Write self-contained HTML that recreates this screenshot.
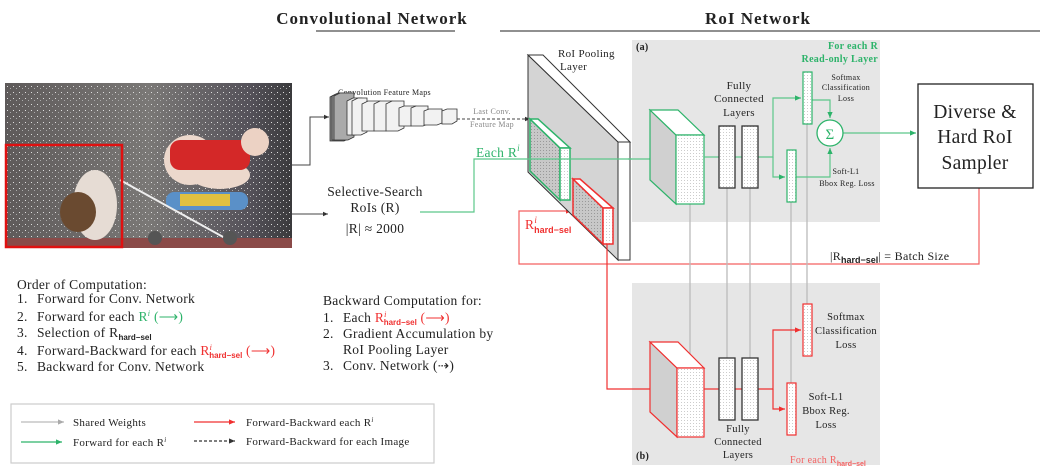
<!DOCTYPE html>
<html><head><meta charset="utf-8"><style>
body{margin:0;background:#fff}
svg{display:block}
text{font-family:"Liberation Serif",serif;fill:#222;letter-spacing:0.3px}
.s{font-family:"Liberation Sans",sans-serif;font-weight:bold;letter-spacing:0}
</style></head><body>
<svg width="1048" height="473" viewBox="0 0 1048 473" xmlns="http://www.w3.org/2000/svg">
<defs>
<pattern id="dot" width="3" height="3" patternUnits="userSpaceOnUse"><rect width="3" height="3" fill="#fff"/><rect width="1" height="1" fill="#ccc"/></pattern>
<pattern id="dot2" width="3" height="3" patternUnits="userSpaceOnUse"><rect width="3" height="3" fill="#c8c8c8"/><rect width="1" height="1" fill="#999"/></pattern>
<pattern id="spark" width="6" height="6" patternUnits="userSpaceOnUse"><rect width="6" height="6" fill="none"/><rect x="1" y="2" width="1" height="1" fill="#ddd"/><rect x="4" y="4" width="1" height="1" fill="#aaa"/></pattern>
<linearGradient id="cur" x1="0" x2="1" y1="0" y2="0">
<stop offset="0" stop-color="#5e5a5a"/><stop offset="0.5" stop-color="#7a7876"/><stop offset="0.85" stop-color="#55525a"/><stop offset="1" stop-color="#3a3a3c"/></linearGradient>
<marker id="ag" markerWidth="6" markerHeight="6" refX="5" refY="3" orient="auto"><path d="M0,0.8L5,3L0,5.2z" fill="#2db36a"/></marker>
<marker id="ar" markerWidth="6" markerHeight="6" refX="5" refY="3" orient="auto"><path d="M0,0.8L5,3L0,5.2z" fill="#f03030"/></marker>
<marker id="ak" markerWidth="6" markerHeight="6" refX="5" refY="3" orient="auto"><path d="M0,0.8L5,3L0,5.2z" fill="#333"/></marker>
<marker id="aq" markerWidth="6" markerHeight="6" refX="5" refY="3" orient="auto"><path d="M0,0.8L5,3L0,5.2z" fill="#aaa"/></marker>
</defs>

<!-- titles -->
<text x="372" y="24" font-size="17" font-weight="bold" text-anchor="middle" style="letter-spacing:1px">Convolutional Network</text>
<line x1="316" y1="31" x2="455" y2="31" stroke="#222"/>
<text x="758" y="24" font-size="17" font-weight="bold" text-anchor="middle" style="letter-spacing:1px">RoI Network</text>
<line x1="500" y1="31" x2="1040" y2="31" stroke="#222"/>

<!-- photo -->
<rect x="5" y="83" width="287" height="165" fill="url(#cur)"/>
<rect x="5" y="83" width="287" height="165" fill="url(#spark)"/>
<rect x="5" y="238" width="287" height="10" fill="#8a4a48"/>
<ellipse cx="95" cy="205" rx="22" ry="35" fill="#e6dcd4"/>
<ellipse cx="78" cy="212" rx="18" ry="20" fill="#6a4a30"/>
<ellipse cx="190" cy="160" rx="26" ry="25" fill="#ecd8cc"/>
<ellipse cx="220" cy="175" rx="30" ry="14" fill="#ecd8cc"/>
<rect x="170" y="140" width="80" height="30" rx="10" fill="#d42828"/>
<circle cx="255" cy="142" r="14" fill="#ecd2c4"/>
<rect x="166" y="192" width="82" height="18" rx="8" fill="#5a90c8"/>
<rect x="180" y="194" width="50" height="12" fill="#e0c040"/>
<line x1="120" y1="180" x2="225" y2="238" stroke="#eee" stroke-width="2"/>
<circle cx="155" cy="238" r="7" fill="#555"/><circle cx="230" cy="238" r="7" fill="#555"/>
<rect x="6" y="145" width="116" height="102" fill="none" stroke="#e01010" stroke-width="2.5"/>

<!-- photo connectors -->
<polyline points="292,165 310,165 310,117 329,117" fill="none" stroke="#444" marker-end="url(#ak)"/>
<line x1="292" y1="214" x2="328" y2="214" stroke="#444" marker-end="url(#ak)"/>

<!-- conv stack -->
<text x="338" y="95" font-size="8">Convolution Feature Maps</text>
<g stroke="#333" stroke-width="0.8">
<path d="M330,97 L336,94 L350,94 L350,138 L344,141 L330,141z" fill="#888"/>
<path d="M332,96 L338,93 L352,93 L352,137 L346,140 L332,140z" fill="#999"/>
<path d="M334,96 L340,93 L354,93 L354,137 L348,140 L334,140z" fill="#aaa"/>
<path d="M347,101 L353,98 L362,98 L362,132 L356,135 L347,135z" fill="#eee"/>
<path d="M352,101 L358,98 L367,98 L367,132 L361,135 L352,135z" fill="#f2f2f2"/>
<path d="M362,104 L368,101 L380,101 L380,128 L374,131 L362,131z" fill="#f2f2f2"/>
<path d="M374,104 L380,101 L392,101 L392,128 L386,131 L374,131z" fill="#f2f2f2"/>
<path d="M386,104 L392,101 L404,101 L404,128 L398,131 L386,131z" fill="#f2f2f2"/>
<path d="M399,108 L404,106 L416,106 L416,124 L411,126 L399,126z" fill="#f2f2f2"/>
<path d="M411,108 L416,106 L428,106 L428,124 L423,126 L411,126z" fill="#f2f2f2"/>
<path d="M424,111 L429,109 L442,109 L442,123 L437,125 L424,125z" fill="#f2f2f2"/>
<path d="M442,111 L447,109 L457,109 L457,121 L452,124 L442,124z" fill="#f2f2f2"/>
</g>
<line x1="457" y1="119" x2="530" y2="119" stroke="#444" stroke-dasharray="3,2" marker-end="url(#ak)"/>
<text x="492" y="114" font-size="8" text-anchor="middle" style="fill:#888">Last Conv.</text>
<text x="492" y="127" font-size="8" text-anchor="middle" style="fill:#888">Feature Map</text>

<!-- selective search -->
<text x="375" y="196" font-size="13.5" text-anchor="middle">Selective-Search</text>
<text x="375" y="212" font-size="13.5" text-anchor="middle">RoIs (R)</text>
<text x="375" y="233" font-size="13.5" text-anchor="middle">|R| ≈ 2000</text>

<!-- red back path -->
<polyline points="979,188 979,264 519,264 519,211 572,211" fill="none" stroke="#f46060" stroke-width="1.2" marker-end="url(#ar)"/>

<!-- RoI pooling -->
<text x="558" y="57" font-size="11">RoI Pooling</text>
<text x="560" y="70" font-size="11">Layer</text>
<path d="M528,55 L618,142 L618,260 L528,172z" fill="#d4d4d4" stroke="#333"/>
<path d="M528,55 L543,55 L630,142 L618,142z" fill="#fff" stroke="#333"/>
<rect x="618" y="142" width="12" height="118" fill="#fff" stroke="#333"/>
<path d="M530,119 L560,148 L560,200 L530,171z" fill="url(#dot2)" stroke="#2db36a" stroke-width="1.5"/>
<path d="M530,119 L538,119 L570,148 L560,148z" fill="#fff" stroke="#2db36a" stroke-width="1.5"/>
<rect x="560" y="148" width="10" height="52" fill="url(#dot)" stroke="#2db36a" stroke-width="1.5"/>
<path d="M573,179 L603,208 L603,244 L573,215z" fill="url(#dot2)" stroke="#f03030" stroke-width="1.5"/>
<path d="M573,179 L580,179 L613,208 L603,208z" fill="#fff" stroke="#f03030" stroke-width="1.5"/>
<rect x="603" y="208" width="10" height="36" fill="url(#dot)" stroke="#f03030" stroke-width="1.5"/>

<!-- green path -->
<polyline points="420,212 474,212 474,159 650,159" fill="none" stroke="#5cc78a" stroke-width="1.2"/>
<text x="476" y="157" font-size="13.5" style="fill:#2db36a">Each R<tspan font-size="9" dy="-6" font-style="italic">i</tspan></text>
<text x="525" y="229" font-size="13.5" style="fill:#f03030">R<tspan font-size="9" dy="-6" font-style="italic">i</tspan><tspan class="s" font-size="9" dx="-3" dy="10" style="fill:#f03030">hard−sel</tspan></text>

<!-- box a -->
<rect x="632" y="40" width="248" height="182" fill="#e6e6e6"/>
<text x="636" y="50" font-size="10" font-weight="bold">(a)</text>
<text x="878" y="49" font-size="10" font-weight="bold" text-anchor="end" style="fill:#2db36a">For each R</text>
<text x="878" y="62" font-size="10" font-weight="bold" text-anchor="end" style="fill:#2db36a">Read-only Layer</text>
<line x1="628" y1="159" x2="660" y2="159" stroke="#5cc78a" stroke-width="1.2" marker-end="url(#ag)"/>

<!-- box b -->
<rect x="632" y="283" width="248" height="182" fill="#e6e6e6"/>
<text x="636" y="459" font-size="10" font-weight="bold">(b)</text>
<text x="790" y="463" font-size="10" style="fill:#f46060">For each R<tspan class="s" font-size="7" dy="3" style="fill:#f46060">hard−sel</tspan></text>

<!-- shared weights -->
<g stroke="#bbb" stroke-width="1.3">
<line x1="690" y1="204" x2="690" y2="368"/>
<line x1="727" y1="188" x2="727" y2="358"/>
<line x1="750" y1="188" x2="750" y2="358"/>
<line x1="791" y1="202" x2="791" y2="383"/>
<line x1="807" y1="124" x2="807" y2="304"/>
</g>

<polyline points="607,244 607,389 660,389" fill="none" stroke="#f03030" stroke-width="1.2" marker-end="url(#ar)"/>

<!-- cube a -->
<path d="M650,110 L676,135 L676,204 L650,180z" fill="#d0d0d0" stroke="#2db36a" stroke-width="1.2"/>
<path d="M650,110 L678,110 L704,135 L676,135z" fill="#fff" stroke="#2db36a" stroke-width="1.2"/>
<rect x="676" y="135" width="28" height="69" fill="url(#dot)" stroke="#2db36a" stroke-width="1.2"/>
<text x="739" y="89" font-size="11" text-anchor="middle">Fully</text>
<text x="739" y="102" font-size="11" text-anchor="middle">Connected</text>
<text x="739" y="116" font-size="11" text-anchor="middle">Layers</text>
<g fill="none" stroke="#5cc78a" stroke-width="1.2">
<line x1="704" y1="157" x2="719" y2="157"/><line x1="735" y1="157" x2="742" y2="157"/>
<polyline points="758,157 773,157 773,98 801,98" marker-end="url(#ag)"/>
<polyline points="773,157 773,177 785,177" marker-end="url(#ag)"/>
<polyline points="812,100 830,100 830,118" marker-end="url(#ag)"/>
<polyline points="796,177 830,177 830,148" marker-end="url(#ag)"/>
<line x1="843" y1="133" x2="916" y2="133" marker-end="url(#ag)"/>
</g>
<rect x="719" y="126" width="16" height="62" fill="url(#dot)" stroke="#333" stroke-width="1.3"/>
<rect x="742" y="126" width="16" height="62" fill="url(#dot)" stroke="#333" stroke-width="1.3"/>
<rect x="803" y="72" width="9" height="52" fill="url(#dot)" stroke="#2db36a" stroke-width="1.2"/>
<rect x="787" y="150" width="9" height="52" fill="url(#dot)" stroke="#2db36a" stroke-width="1.2"/>
<circle cx="830" cy="133" r="13" fill="#fff" stroke="#2db36a" stroke-width="1.3"/>
<text x="830" y="139" font-size="15" text-anchor="middle" style="fill:#2db36a">Σ</text>
<g font-size="8">
<text x="846" y="80" text-anchor="middle">Softmax</text>
<text x="846" y="90" text-anchor="middle">Classification</text>
<text x="846" y="101" text-anchor="middle">Loss</text>
<text x="846" y="174" text-anchor="middle">Soft-L1</text>
<text x="847" y="186" text-anchor="middle">Bbox Reg. Loss</text>
</g>

<!-- sampler -->
<rect x="918" y="84" width="115" height="104" fill="#fff" stroke="#222" stroke-width="1.3"/>
<text x="975" y="118" font-size="19.5" text-anchor="middle">Diverse &amp;</text>
<text x="975" y="143" font-size="19.5" text-anchor="middle">Hard RoI</text>
<text x="975" y="169" font-size="19.5" text-anchor="middle">Sampler</text>
<text x="830" y="260" font-size="12">|R<tspan class="s" font-size="9" dy="3">hard−sel</tspan><tspan dy="-3">| = Batch Size</tspan></text>

<!-- cube b -->
<path d="M650,342 L677,368 L677,437 L650,412z" fill="#d0d0d0" stroke="#f03030" stroke-width="1.2"/>
<path d="M650,342 L678,342 L704,368 L677,368z" fill="#fff" stroke="#f03030" stroke-width="1.2"/>
<rect x="677" y="368" width="27" height="69" fill="url(#dot)" stroke="#f03030" stroke-width="1.2"/>
<g fill="none" stroke="#f03030" stroke-width="1.2">
<line x1="704" y1="389" x2="719" y2="389"/><line x1="735" y1="389" x2="742" y2="389"/>
<polyline points="758,389 773,389 773,330 801,330" marker-end="url(#ar)"/>
<polyline points="773,389 773,409 785,409" marker-end="url(#ar)"/>
</g>
<rect x="719" y="358" width="16" height="62" fill="url(#dot)" stroke="#333" stroke-width="1.3"/>
<rect x="742" y="358" width="16" height="62" fill="url(#dot)" stroke="#333" stroke-width="1.3"/>
<rect x="803" y="304" width="9" height="52" fill="url(#dot)" stroke="#f03030" stroke-width="1.2"/>
<rect x="787" y="383" width="9" height="52" fill="url(#dot)" stroke="#f03030" stroke-width="1.2"/>
<g font-size="10.5">
<text x="846" y="320" text-anchor="middle">Softmax</text>
<text x="846" y="334" text-anchor="middle">Classification</text>
<text x="846" y="348" text-anchor="middle">Loss</text>
<text x="826" y="400" text-anchor="middle">Soft-L1</text>
<text x="826" y="414" text-anchor="middle">Bbox Reg.</text>
<text x="826" y="428" text-anchor="middle">Loss</text>
<text x="738" y="432" text-anchor="middle">Fully</text>
<text x="738" y="445" text-anchor="middle">Connected</text>
<text x="738" y="458" text-anchor="middle">Layers</text>
</g>

<!-- order of computation -->
<g font-size="13.5" style="letter-spacing:0.5px">
<text x="17" y="289">Order of Computation:</text>
<text x="17" y="303">1.</text><text x="37" y="303">Forward for Conv. Network</text>
<text x="17" y="321">2.</text><text x="37" y="321">Forward for each <tspan style="fill:#2db36a">R<tspan font-size="8" dy="-5" font-style="italic">i</tspan><tspan dy="5"> (⟶)</tspan></tspan></text>
<text x="17" y="337">3.</text><text x="37" y="337">Selection of R<tspan class="s" font-size="8" dy="3">hard−sel</tspan></text>
<text x="17" y="355">4.</text><text x="37" y="355">Forward-Backward for each <tspan style="fill:#f03030">R<tspan font-size="8" dy="-5" font-style="italic">i</tspan><tspan class="s" font-size="8" dx="-3" dy="8" style="fill:#f03030">hard−sel</tspan><tspan dy="-3"> (⟶)</tspan></tspan></text>
<text x="17" y="371">5.</text><text x="37" y="371">Backward for Conv. Network</text>
<text x="323" y="305">Backward Computation for:</text>
<text x="323" y="322">1.</text><text x="343" y="322">Each <tspan style="fill:#f03030">R<tspan font-size="8" dy="-5" font-style="italic">i</tspan><tspan class="s" font-size="8" dx="-3" dy="8" style="fill:#f03030">hard−sel</tspan><tspan dy="-3"> (⟶)</tspan></tspan></text>
<text x="323" y="338">2.</text><text x="343" y="338">Gradient Accumulation by</text>
<text x="343" y="354">RoI Pooling Layer</text>
<text x="323" y="370">3.</text><text x="343" y="370">Conv. Network (⇢)</text>
</g>

<!-- legend -->
<rect x="11" y="404" width="423" height="59" fill="#fff" stroke="#ccc" stroke-width="1.2"/>
<g stroke-width="1.2">
<line x1="21" y1="422" x2="64" y2="422" stroke="#bbb" marker-end="url(#aq)"/>
<line x1="21" y1="442" x2="62" y2="442" stroke="#2db36a" marker-end="url(#ag)"/>
<line x1="194" y1="422" x2="235" y2="422" stroke="#f03030" marker-end="url(#ar)"/>
<line x1="194" y1="441" x2="235" y2="441" stroke="#333" stroke-dasharray="3,2" marker-end="url(#ak)"/>
</g>
<g font-size="11" style="letter-spacing:0.5px">
<text x="73" y="426">Shared Weights</text>
<text x="73" y="446">Forward for each R<tspan font-size="7" dy="-4" font-style="italic">i</tspan></text>
<text x="246" y="426">Forward-Backward each R<tspan font-size="7" dy="-4" font-style="italic">i</tspan></text>
<text x="246" y="445">Forward-Backward for each Image</text>
</g>
</svg>
</body></html>
